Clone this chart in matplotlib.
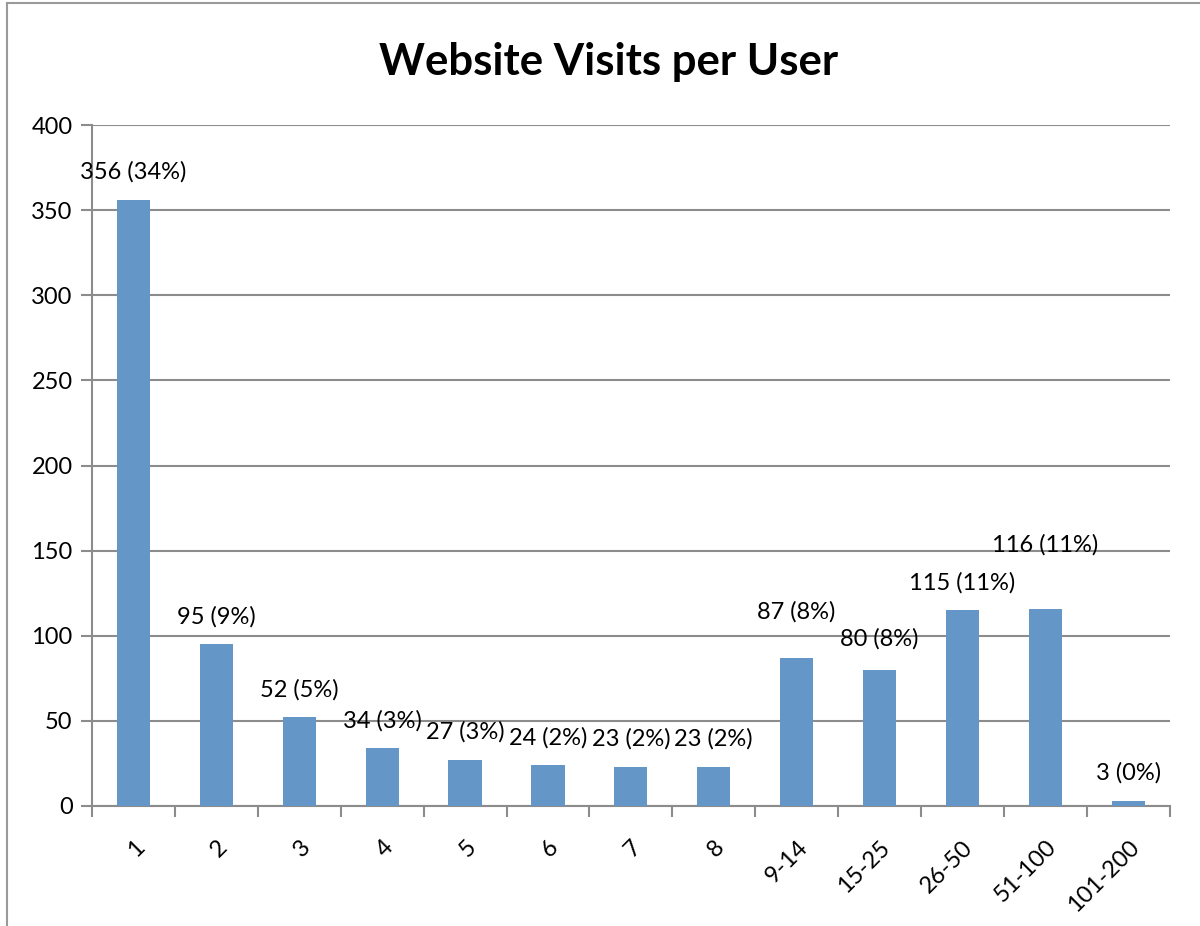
import matplotlib
matplotlib.use('Agg')
import matplotlib.pyplot as plt
from matplotlib.lines import Line2D
import numpy as np

categories = ['1', '2', '3', '4', '5', '6', '7', '8', '9-14', '15-25', '26-50', '51-100', '101-200']
visits = [356, 95, 52, 34, 27, 24, 23, 23, 87, 80, 115, 116, 3]
percents = [34, 9, 5, 3, 3, 2, 2, 2, 8, 8, 11, 11, 0]

# label offsets above the bar (points) - a couple were moved by hand in the original
label_dy = [20, 20, 20, 20, 20, 20, 20, 20, 33, 22, 20, 46, 20]

plt.rcParams['font.family'] = ['Lato', 'DejaVu Sans']

BAR = '#6496C8'
GRID = '#8C8C8C'
FS = 17

fig = plt.figure(figsize=(12, 9.26), dpi=100)
ax = fig.add_axes([0.0767, 0.1296, 0.898, 0.7354])

x = np.arange(len(categories))
ax.bar(x, visits, width=0.4, color=BAR, zorder=3)

for xi, v, p, dy in zip(x, visits, percents, label_dy):
    ax.annotate(f'{v} ({p}%)', (xi, v), xytext=(0, dy), textcoords='offset points',
                ha='center', va='center', fontsize=FS, color='black')

ax.set_xlim(-0.5, len(categories) - 0.5)
ax.set_ylim(0, 400)
ax.set_yticks(range(0, 401, 50))
ax.yaxis.grid(True, color=GRID, linewidth=1.5, zorder=0)
ax.tick_params(axis='y', length=8, width=1.5, color=GRID, labelsize=FS, pad=6)

ax.set_xticks(x)
ax.set_xticklabels(categories, rotation=45, ha='right', rotation_mode='anchor', fontsize=FS)
ax.tick_params(axis='x', which='major', length=0, pad=22)
ax.set_xticks(np.arange(-0.5, len(categories), 1), minor=True)
ax.tick_params(axis='x', which='minor', length=8, width=1.5, color=GRID)

for s in ['top', 'right']:
    ax.spines[s].set_visible(False)
for s in ['left', 'bottom']:
    ax.spines[s].set_color(GRID)
    ax.spines[s].set_linewidth(1.5)

fig.text(0.507, 0.933, 'Website Visits per User', ha='center', va='center',
         fontsize=31.5, fontweight='bold')

# chart area frame (only left and top edges show)
fig.add_artist(Line2D([0.006, 0.006], [0, 0.997], transform=fig.transFigure, color='#9A9A9A', linewidth=1.5))
fig.add_artist(Line2D([0.006, 1.0], [0.997, 0.997], transform=fig.transFigure, color='#9A9A9A', linewidth=1.5))

fig.savefig('out.png', dpi=100)
